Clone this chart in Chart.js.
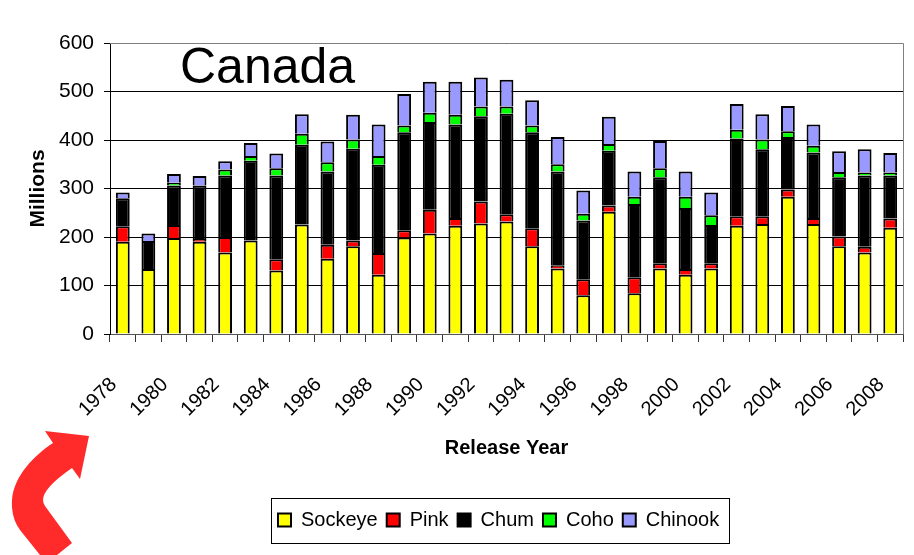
<!DOCTYPE html>
<html>
<head>
<meta charset="utf-8">
<title>Canada</title>
<style>
  html, body { margin: 0; padding: 0; background: #fff; }
  #wrap { position: relative; width: 914px; height: 555px; overflow: hidden; }
  #arrow { position: absolute; left: 0; top: 0; }
</style>
<script src="https://cdn.jsdelivr.net/npm/chart.js"></script>
</head>
<body>
<div id="wrap">
  <canvas id="chart" width="914" height="555"></canvas>
  <svg id="arrow" width="914" height="555">
    <path fill="#ff2a2a" d="M45 431 L89 436 L80 479 L72 468 Q43 488 43 500 Q43 503 45 506 L72 543 L57 555 L40 555 L20 530 Q11 518 12 500 C14 475 35 455 53 443 Z"/>
  </svg>
</div>

<script>
  var years = ["1978", "1979", "1980", "1981", "1982", "1983", "1984", "1985", "1986", "1987", "1988",
    "1989", "1990", "1991", "1992", "1993", "1994", "1995", "1996", "1997", "1998",
    "1999", "2000", "2001", "2002", "2003", "2004", "2005", "2006", "2007", "2008"];

  // releases per species, millions
  var sockeye = [190, 134, 198, 190, 168, 193, 131, 226, 155, 181, 122,
    199, 207, 223, 228, 232, 181, 135, 80, 252, 84,
    135, 122, 135, 223, 227, 283, 227, 181, 168, 219];
  var pink = [32, 0, 27, 6, 32, 0, 23, 0, 29, 12, 45,
    15, 49, 16, 45, 15, 37, 7, 33, 13, 33,
    11, 12, 11, 20, 16, 15, 12, 20, 12, 19];
  var chum = [58, 58, 81, 110, 127, 164, 173, 164, 151, 189, 182,
    202, 181, 193, 176, 207, 198, 193, 121, 113, 151,
    177, 126, 79, 160, 138, 108, 135, 122, 147, 89];
  var coho = [0, 0, 6, 0, 12, 10, 15, 23, 19, 19, 18,
    14, 19, 20, 20, 15, 14, 15, 14, 14, 15,
    19, 23, 20, 18, 20, 12, 14, 11, 6, 6];
  var chinook = [12, 15, 18, 20, 17, 27, 30, 40, 43, 51, 65,
    65, 64, 68, 60, 55, 52, 56, 48, 56, 52,
    56, 52, 47, 53, 52, 52, 44, 43, 48, 40];

  var heading = "Canada";

  function segment(label, values, color) {
    return {
      label: label,
      data: values,
      backgroundColor: color,
      borderColor: "#000",
      borderWidth: 2,
      barPercentage: 0.54,
      categoryPercentage: 1,
    };
  }

  // heading inside the plot, frame around the legend and plot
  var extras = {
    id: "extras",
    beforeDraw: function (chart) {
      var lg = chart.legend;
      var w = lg.right - lg.left;
      lg.left = 269;
      lg.right = 269 + w;
      lg.top = 501;
      lg.bottom = 501 + 30;
    },
    beforeDatasetsDraw: function (chart) {
      var c = chart.ctx;
      var a = chart.chartArea;
      c.save();
      c.strokeStyle = "#808080";
      c.lineWidth = 1;
      c.beginPath();
      c.moveTo(a.left, a.top + 0.5);
      c.lineTo(a.right + 0.5, a.top + 0.5);
      c.lineTo(a.right + 0.5, a.bottom);
      c.stroke();
      c.restore();
    },
    afterDraw: function (chart) {
      var c = chart.ctx;
      c.save();
      c.strokeStyle = "#000";
      c.lineWidth = 1;
      c.strokeRect(271.5, 498.5, 458, 45);
      c.fillStyle = "#000";
      c.font = "50px 'Liberation Sans'";
      c.textBaseline = "alphabetic";
      c.fillText(heading, 180, 83);
      c.restore();
    },
  };

  new Chart(document.getElementById("chart").getContext("2d"), {
    type: "bar",
    data: {
      labels: years,
      datasets: [
        segment("Sockeye", sockeye, "#ffff00"),
        segment("Pink", pink, "#ff0000"),
        segment("Chum", chum, "#000000"),
        segment("Coho", coho, "#00ff00"),
        segment("Chinook", chinook, "#9999ff"),
      ],
    },
    plugins: [extras],
    options: {
      responsive: false,
      animation: false,
      layout: { padding: { left: 0, right: 11, top: 43, bottom: 0 } },
      scales: {
        x: {
          stacked: true,
          grid: { drawOnChartArea: false, color: "#333", tickLength: 8, tickWidth: 1 },
          border: { color: "#555", width: 1 },
          ticks: {
            color: "#000",
            font: { family: "Liberation Sans", size: 20 },
            autoSkip: false,
            minRotation: 45,
            maxRotation: 45,
            padding: 31,
            labelOffset: -9,
            callback: function (value, index) {
              return index % 2 === 0 ? this.getLabelForValue(value) : "";
            },
          },
          title: {
            display: true,
            text: "Release Year",
            color: "#000",
            font: { family: "Liberation Sans", size: 20, weight: "bold" },
            padding: { top: 14, bottom: 56 },
          },
          afterFit: function (scale) {
            scale.height = 182;
            // the rotated labels would otherwise pull the plot in from the right
            scale.paddingRight = 0;
            scale.paddingLeft = 0;
          },
        },
        y: {
          stacked: true,
          min: 0,
          max: 600,
          grid: { color: "#000", lineWidth: 1, tickLength: 6 },
          border: { color: "#000", width: 1 },
          ticks: {
            stepSize: 100,
            color: "#000",
            font: { family: "Liberation Sans", size: 21 },
            padding: 10,
          },
          title: {
            display: true,
            text: "Millions",
            color: "#000",
            font: { family: "Liberation Sans", size: 21, weight: "bold" },
            padding: { top: 26, bottom: 0 },
          },
          afterFit: function (scale) { scale.width = 110; },
        },
      },
      plugins: {
        tooltip: { enabled: false },
        legend: {
          position: "bottom",
          align: "start",
          labels: {
            color: "#000",
            font: { family: "Liberation Sans", size: 20 },
            boxWidth: 13,
            boxHeight: 13,
            padding: 9,
          },
        },
      },
    },
  });
</script>
</body>
</html>
